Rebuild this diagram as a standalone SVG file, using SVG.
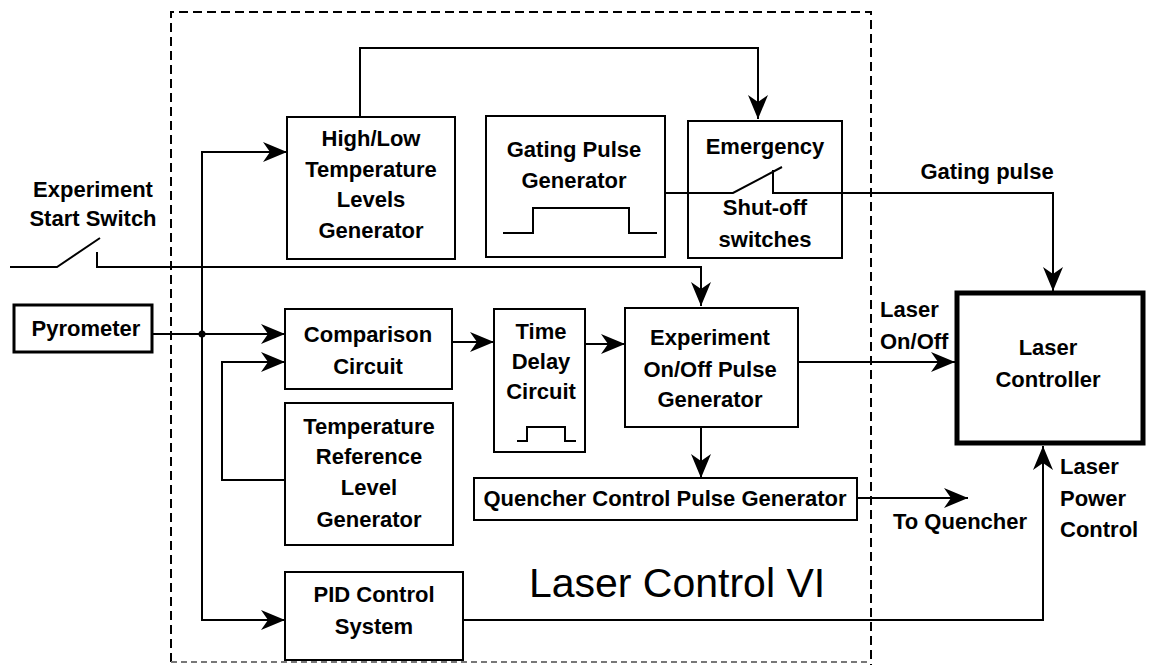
<svg xmlns="http://www.w3.org/2000/svg" width="1150" height="672" viewBox="0 0 1150 672">
<style>
.box{fill:none;stroke:#000;stroke-width:2}
.ln{fill:none;stroke:#000;stroke-width:2}
.t{font-family:"Liberation Sans",Arial,sans-serif;font-weight:bold;font-size:22px;fill:#000;text-anchor:middle}
.tl{font-family:"Liberation Sans",Arial,sans-serif;font-weight:bold;font-size:22px;fill:#000;text-anchor:start}
.big{font-family:"Liberation Sans",Arial,sans-serif;font-size:41px;fill:#000;text-anchor:middle}
</style>
<defs>
<marker id="ah" markerUnits="userSpaceOnUse" markerWidth="26" markerHeight="20" refX="24" refY="10" orient="auto">
<path d="M0,0 L24,10 L0,20 L7,10 z" fill="#000"/>
</marker>
</defs>
<rect width="1150" height="672" fill="#fff"/>
<g id="vi-boundary">
<path d="M171,662 L171,12 L871,12 L871,665" fill="none" stroke="#000" stroke-width="2" stroke-dasharray="9,5"/>
<path d="M171,662 L871,662" fill="none" stroke="#777" stroke-width="2" stroke-dasharray="6,4"/>
<text class="big" x="677" y="597">Laser Control VI</text>
</g>
<g id="connectors">
<path class="ln" d="M360,117 L360,48 L758,48 L758,119" marker-end="url(#ah)"/>
<path class="ln" d="M665,193 L733,193 L782,167"/>
<path class="ln" d="M773,170 L773,193 L1053,193 L1053,291" marker-end="url(#ah)"/>
<path class="ln" d="M10,267 L57,267 L100,238"/>
<path class="ln" d="M97,252 L97,267 L701,267 L701,306" marker-end="url(#ah)"/>
<path class="ln" d="M152,334 L285,334" marker-end="url(#ah)"/>
<path class="ln" d="M202,334 L202,152 L287,152" marker-end="url(#ah)"/>
<path class="ln" d="M202,334 L202,620 L285,620" marker-end="url(#ah)"/>
<circle cx="202" cy="334" r="3.5" fill="#000"/>
<path class="ln" d="M285,480 L222,480 L222,362 L285,362" marker-end="url(#ah)"/>
<path class="ln" d="M452,342 L494,342" marker-end="url(#ah)"/>
<path class="ln" d="M585,344 L625,344" marker-end="url(#ah)"/>
<path class="ln" d="M798,362 L955,362" marker-end="url(#ah)"/>
<path class="ln" d="M701,427 L701,478" marker-end="url(#ah)"/>
<path class="ln" d="M857,498 L968,498" marker-end="url(#ah)"/>
<path class="ln" d="M463,620 L1043,620 L1043,446" marker-end="url(#ah)"/>
</g>
<g id="highlow">
<rect class="box" x="287" y="117" width="168" height="142"/>
<text class="t" x="371" y="146">High/Low</text>
<text class="t" x="371" y="177">Temperature</text>
<text class="t" x="371" y="207">Levels</text>
<text class="t" x="371" y="238">Generator</text>
</g>
<g id="gating">
<rect class="box" x="486" y="116" width="179" height="141"/>
<text class="t" x="574" y="157">Gating Pulse</text>
<text class="t" x="574" y="188">Generator</text>
<path class="ln" d="M503,233 L533,233 L533,208 L629,208 L629,233 L657,233"/>
</g>
<g id="emergency">
<rect class="box" x="688" y="121" width="154" height="137"/>
<text class="t" x="765" y="154">Emergency</text>
<text class="t" x="765" y="215">Shut-off</text>
<text class="t" x="765" y="247">switches</text>
</g>
<g id="start-switch">
<text class="t" x="93" y="197">Experiment</text>
<text class="t" x="93" y="226">Start Switch</text>
</g>
<g id="pyrometer">
<rect x="14" y="305" width="138" height="47" fill="none" stroke="#000" stroke-width="3"/>
<text class="t" x="86" y="336">Pyrometer</text>
</g>
<g id="comparison">
<rect class="box" x="285" y="309" width="167" height="80"/>
<text class="t" x="368" y="342">Comparison</text>
<text class="t" x="368" y="374">Circuit</text>
</g>
<g id="tempref">
<rect class="box" x="285" y="403" width="168" height="142"/>
<text class="t" x="369" y="434">Temperature</text>
<text class="t" x="369" y="464">Reference</text>
<text class="t" x="369" y="495">Level</text>
<text class="t" x="369" y="527">Generator</text>
</g>
<g id="pid">
<rect class="box" x="285" y="572" width="178" height="88"/>
<text class="t" x="374" y="602">PID Control</text>
<text class="t" x="374" y="634">System</text>
</g>
<g id="timedelay">
<rect class="box" x="494" y="309" width="91" height="143"/>
<text class="t" x="541" y="339">Time</text>
<text class="t" x="541" y="369">Delay</text>
<text class="t" x="541" y="399">Circuit</text>
<path class="ln" d="M517,441 L527,441 L527,427 L565,427 L565,441 L576,441"/>
</g>
<g id="experiment">
<rect class="box" x="625" y="308" width="173" height="119"/>
<text class="t" x="710" y="345">Experiment</text>
<text class="t" x="710" y="377">On/Off Pulse</text>
<text class="t" x="710" y="407">Generator</text>
</g>
<g id="quencher">
<rect class="box" x="474" y="478" width="383" height="42"/>
<text class="t" x="665" y="506">Quencher Control Pulse Generator</text>
</g>
<g id="laser-controller">
<rect x="957" y="293" width="186" height="150" fill="none" stroke="#000" stroke-width="5"/>
<text class="t" x="1048" y="355">Laser</text>
<text class="t" x="1048" y="387">Controller</text>
</g>
<g id="labels">
<text class="t" x="987" y="179">Gating pulse</text>
<text class="tl" x="880" y="317">Laser</text>
<text class="tl" x="880" y="349">On/Off</text>
<text class="tl" x="893" y="529">To Quencher</text>
<text class="tl" x="1060" y="474">Laser</text>
<text class="tl" x="1060" y="506">Power</text>
<text class="tl" x="1060" y="537">Control</text>
</g>
</svg>
